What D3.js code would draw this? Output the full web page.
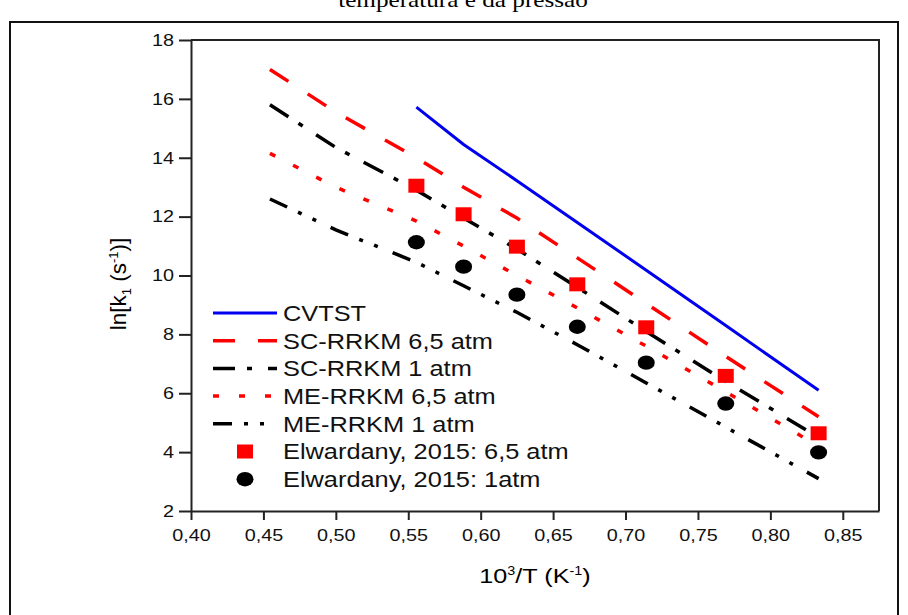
<!DOCTYPE html>
<html>
<head>
<meta charset="utf-8">
<script src="https://cdn.jsdelivr.net/npm/d3@7"></script>
<style>
  body { margin: 0; background: #fff; }
  svg { display: block; font-family: Arial, "Liberation Sans", sans-serif; }
  .stretch { transform-box: fill-box; transform: scaleX(1.2); }
</style>
</head>
<body>
<div id="chart"></div>
<script>
// 1000/T values (T = 2200 ... 1200 K)
const invT = [0.4545, 0.5, 0.5556, 0.5882, 0.625, 0.6667, 0.7143, 0.7692, 0.8333];
const invTshort = [0.5556, 0.5882, 0.625, 0.6667, 0.7143, 0.7692, 0.8333];

// ln k1 series
const cvtst = [15.72, 14.45, 13.22, 11.8, 10.18, 8.3, 6.1];
const scRrkm65 = [17.0, 15.55, 14.0, 13.0, 11.95, 10.6, 9.05, 7.25, 5.2];
const scRrkm1 = [15.8, 14.35, 12.9, 11.95, 10.9, 9.6, 8.1, 6.4, 4.5];
const meRrkm65 = [14.15, 13.0, 11.85, 11.0, 10.0, 8.9, 7.6, 6.05, 4.2];
const meRrkm1 = [12.6, 11.55, 10.45, 9.65, 8.75, 7.65, 6.35, 4.85, 3.1];

// Elwardany 2015 experiments
const elw65 = [13.05, 12.08, 10.98, 9.7, 8.24, 6.59, 4.64];
const elw1 = [11.13, 10.3, 9.35, 8.26, 7.04, 5.65, 3.99];

const xTicks = [0.40, 0.45, 0.50, 0.55, 0.60, 0.65, 0.70, 0.75, 0.80, 0.85];
const yTicks = [2, 4, 6, 8, 10, 12, 14, 16, 18];

const W = 908, H = 615;
const margin = { top: 40, right: 29, bottom: 104, left: 191 };
const width = W - margin.left - margin.right,
    height = H - margin.top - margin.bottom;

const root = d3.select("#chart").append("svg")
    .attr("width", W)
    .attr("height", H);

// outer page frame + title (cut at the top edge, as in the source page)
root.append("path")
    .attr("d", `M10,${H} V22 H898 V${H}`)
    .attr("fill", "none")
    .attr("stroke", "#111")
    .attr("stroke-width", 2);
root.append("text")
    .attr("class", "stretch")
    .style("transform-origin", "center")
    .attr("x", 463)
    .attr("y", 7)
    .attr("text-anchor", "middle")
    .style("font-family", "'Liberation Serif', 'Times New Roman', serif")
    .style("font-size", "21px")
    .text("temperatura e da pressão");

const svg = root.append("g")
    .attr("transform", `translate(${margin.left}, ${margin.top})`);

const x = d3.scaleLinear().domain([0.40, 0.875]).range([0, width]);
const y = d3.scaleLinear().domain([2, 18]).range([height, 0]);

const comma = d => d3.format(".2f")(d).replace(".", ",");

// axes
const xAxis = svg.append("g")
    .attr("transform", `translate(0, ${height})`)
    .call(d3.axisBottom(x).tickValues(xTicks).tickFormat(comma).tickSize(9).tickSizeOuter(0).tickPadding(9));
const yAxis = svg.append("g")
    .call(d3.axisLeft(y).tickValues(yTicks).tickSize(12).tickSizeOuter(0).tickPadding(5));

[xAxis, yAxis].forEach(a => {
    a.select(".domain").attr("stroke", "#222").attr("stroke-width", 2);
    a.selectAll(".tick line").attr("stroke", "#222").attr("stroke-width", 2);
    a.selectAll(".tick text")
        .attr("fill", "#111")
        .style("font-size", "16.5px")
        .attr("class", "stretch");
});
xAxis.selectAll(".tick text").style("transform-origin", "center");
yAxis.selectAll(".tick text").style("transform-origin", "right center");

// top + right box
svg.append("path")
    .attr("d", `M0,0 H${width} V${height}`)
    .attr("fill", "none")
    .attr("stroke", "#222")
    .attr("stroke-width", 2);

// axis titles
const xt = svg.append("text")
    .attr("class", "stretch")
    .style("transform-origin", "center")
    .attr("x", width / 2)
    .attr("y", height + 72)
    .attr("text-anchor", "middle")
    .style("font-size", "21px");
xt.append("tspan").text("10");
xt.append("tspan").attr("dy", -8).style("font-size", "12px").text("3");
xt.append("tspan").attr("dy", 8).text("/T (K");
xt.append("tspan").attr("dy", -8).style("font-size", "12px").text("-1");
xt.append("tspan").attr("dy", 8).text(")");

const yt = svg.append("text")
    .attr("transform", `translate(${126 - margin.left}, ${284 - margin.top}) rotate(-90)`)
    .attr("text-anchor", "middle")
    .style("font-size", "22.5px");
yt.append("tspan").text("ln[k");
yt.append("tspan").attr("dy", 5).style("font-size", "13px").text("1");
yt.append("tspan").attr("dy", -5).text(" (s");
yt.append("tspan").attr("dy", -8).style("font-size", "13px").text("-1");
yt.append("tspan").attr("dy", 8).text(")]");

// series
const series = [
    { name: "CVTST", xs: invTshort, ys: cvtst, color: "#0000ee", dash: null, w: 3 },
    { name: "SC-RRKM 6,5 atm", xs: invT, ys: scRrkm65, color: "#ff0000", dash: "22,23", w: 3.5 },
    { name: "SC-RRKM 1 atm", xs: invT, ys: scRrkm1, color: "#000000", dash: "22,12,5,16", w: 3.5 },
    { name: "ME-RRKM 6,5 atm", xs: invT, ys: meRrkm65, color: "#ff0000", dash: "6,20", w: 3.5 },
    { name: "ME-RRKM 1 atm", xs: invT, ys: meRrkm1, color: "#000000", dash: "19,12,4,12,4,16", w: 3.5 }
];

const line = d3.line().x(d => x(d[0])).y(d => y(d[1]));

series.forEach(s => {
    svg.append("path")
        .datum(s.xs.map((v, i) => [v, s.ys[i]]))
        .attr("d", line)
        .attr("fill", "none")
        .attr("stroke", s.color)
        .attr("stroke-width", s.w)
        .attr("stroke-dasharray", s.dash);
});

// experimental points
svg.selectAll(".sq")
    .data(invTshort.map((v, i) => [v, elw65[i]]))
    .join("rect")
    .attr("x", d => x(d[0]) - 8)
    .attr("y", d => y(d[1]) - 7)
    .attr("width", 16)
    .attr("height", 14)
    .attr("fill", "#ff0000");

svg.selectAll(".dot")
    .data(invTshort.map((v, i) => [v, elw1[i]]))
    .join("ellipse")
    .attr("cx", d => x(d[0]))
    .attr("cy", d => y(d[1]))
    .attr("rx", 8.5)
    .attr("ry", 7.2)
    .attr("fill", "#000");

// legend
const legend = svg.append("g").attr("transform", `translate(${213 - margin.left}, ${313 - margin.top})`);
const rowH = 27.7;

series.forEach((s, i) => {
    legend.append("line")
        .attr("x1", 0).attr("x2", 64)
        .attr("y1", i * rowH).attr("y2", i * rowH)
        .attr("stroke", s.color)
        .attr("stroke-width", s.w)
        .attr("stroke-dasharray", s.dash);
});
legend.append("rect")
    .attr("x", 24).attr("y", 5 * rowH - 7)
    .attr("width", 16).attr("height", 14)
    .attr("fill", "#ff0000");
legend.append("ellipse")
    .attr("cx", 32).attr("cy", 6 * rowH)
    .attr("rx", 8.5).attr("ry", 7.2)
    .attr("fill", "#000");

const labels = series.map(s => s.name).concat(["Elwardany, 2015: 6,5 atm", "Elwardany, 2015: 1atm"]);
legend.selectAll(".lab")
    .data(labels)
    .join("text")
    .attr("class", "stretch")
    .style("transform-origin", "left center")
    .style("transform", "scaleX(1.18)")
    .attr("x", 70)
    .attr("y", (d, i) => i * rowH + 8)
    .style("font-size", "21.5px")
    .attr("fill", "#111")
    .text(d => d);
</script>
</body>
</html>
